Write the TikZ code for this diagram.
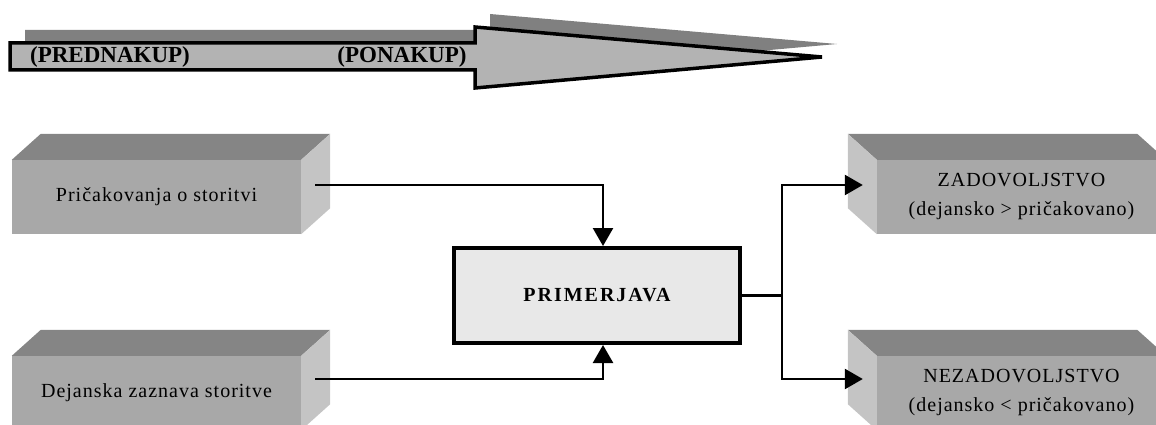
\documentclass[tikz,border=0pt]{standalone}
\usepackage{fontspec}
\setmainfont{Liberation Serif}
\newfontfamily\spacedfont[LetterSpace=5]{Liberation Serif}
\newfontfamily\widefont[LetterSpace=10]{Liberation Serif}
\usetikzlibrary{arrows.meta,calc}

\definecolor{frontgray}{RGB}{168,168,168}
\definecolor{topgray}{RGB}{133,133,133}
\definecolor{sidegray}{RGB}{196,196,196}
\definecolor{arrowgray}{RGB}{179,179,179}
\definecolor{shadowgray}{RGB}{128,128,128}
\definecolor{cmpfill}{RGB}{232,232,232}

\begin{document}
\begin{tikzpicture}[x=1pt,y=-1pt,
  front/.style={rectangle, fill=frontgray, minimum width=289pt, minimum height=74pt,
    inner sep=0pt, align=center, font=\spacedfont\fontsize{20}{29}\selectfont},
  topface/.style={fill=topgray},
  sideface/.style={fill=sidegray},
  cmpbox/.style={rectangle, draw=black, line width=4pt, fill=cmpfill,
    minimum width=286pt, minimum height=95pt, inner sep=0pt,
    font=\widefont\bfseries\fontsize{20}{24}\selectfont},
  phase/.style={inner sep=0pt, font=\bfseries\fontsize{23}{26}\selectfont},
  wire/.style={line width=2.5pt},
  conn/.style={wire, -{Triangle[length=18pt,width=20pt]}},
  bigarrow/.style={fill=arrowgray, draw=black, line width=3.5pt, line join=miter},
  arrowshadow/.style={fill=shadowgray}]

\useasboundingbox (0,0) rectangle (1156,425);
\clip (0,0) rectangle (1156,425);

% time line arrow with its shadow
\begin{scope}[shift={(15,-13)}]
  \path[arrowshadow] (10,43) -- (475,43) -- (475,27) -- (822,57) -- (475,88) -- (475,70) -- (10,70) -- cycle;
\end{scope}
\path[bigarrow] (10,43) -- (475,43) -- (475,27) -- (822,57) -- (475,88) -- (475,70) -- (10,70) -- cycle;
\node[phase] (pre) at (110,57) {(PREDNAKUP)};
\node[phase] (post) at (402,57) {(PONAKUP)};

% input blocks (depth towards upper right)
\node[front] (pr) at (156.5,197) {Pričakovanja o storitvi};
\node[front] (da) at (156.5,393) {Dejanska zaznava storitve};
\foreach \b in {pr,da}{
  \path[topface] (\b.north west) -- (\b.north east) -- ++(29,-26)
    -- ($(\b.north west)+(29,-26)$) -- cycle;
  \path[sideface] (\b.north east) -- (\b.south east) -- ++(29,-26)
    -- ($(\b.north east)+(29,-26)$) -- cycle;
}

% result blocks (depth towards upper left)
\node[front] (zd) at (1021.5,197) {ZADOVOLJSTVO\\(dejansko > pričakovano)};
\node[front] (nz) at (1021.5,393) {NEZADOVOLJSTVO\\(dejansko < pričakovano)};
\foreach \b in {zd,nz}{
  \path[topface] (\b.north west) -- ++(-29,-26)
    -- ($(\b.north east)+(-29,-26)$) -- (\b.north east) -- cycle;
  \path[sideface] (\b.north west) -- (\b.south west) -- ++(-29,-26)
    -- ($(\b.north west)+(-29,-26)$) -- cycle;
}

% comparison
\node[cmpbox] (cmp) at (597,295.5) {PRIMERJAVA};

% connectors
\draw[conn] ($(pr.east)+(14,-12)$) -| ($(cmp.north)+(6,0)$);
\draw[conn] ($(da.east)+(14,-14)$) -| ($(cmp.south)+(6,0)$);
\coordinate (split) at ($(cmp.east)+(40,0)$);
\draw[wire] (cmp.east) -- (split);
\draw[conn] (split) |- ($(zd.west)+(-14,-12)$);
\draw[conn] (split) |- ($(nz.west)+(-14,-14)$);
\end{tikzpicture}
\end{document}
